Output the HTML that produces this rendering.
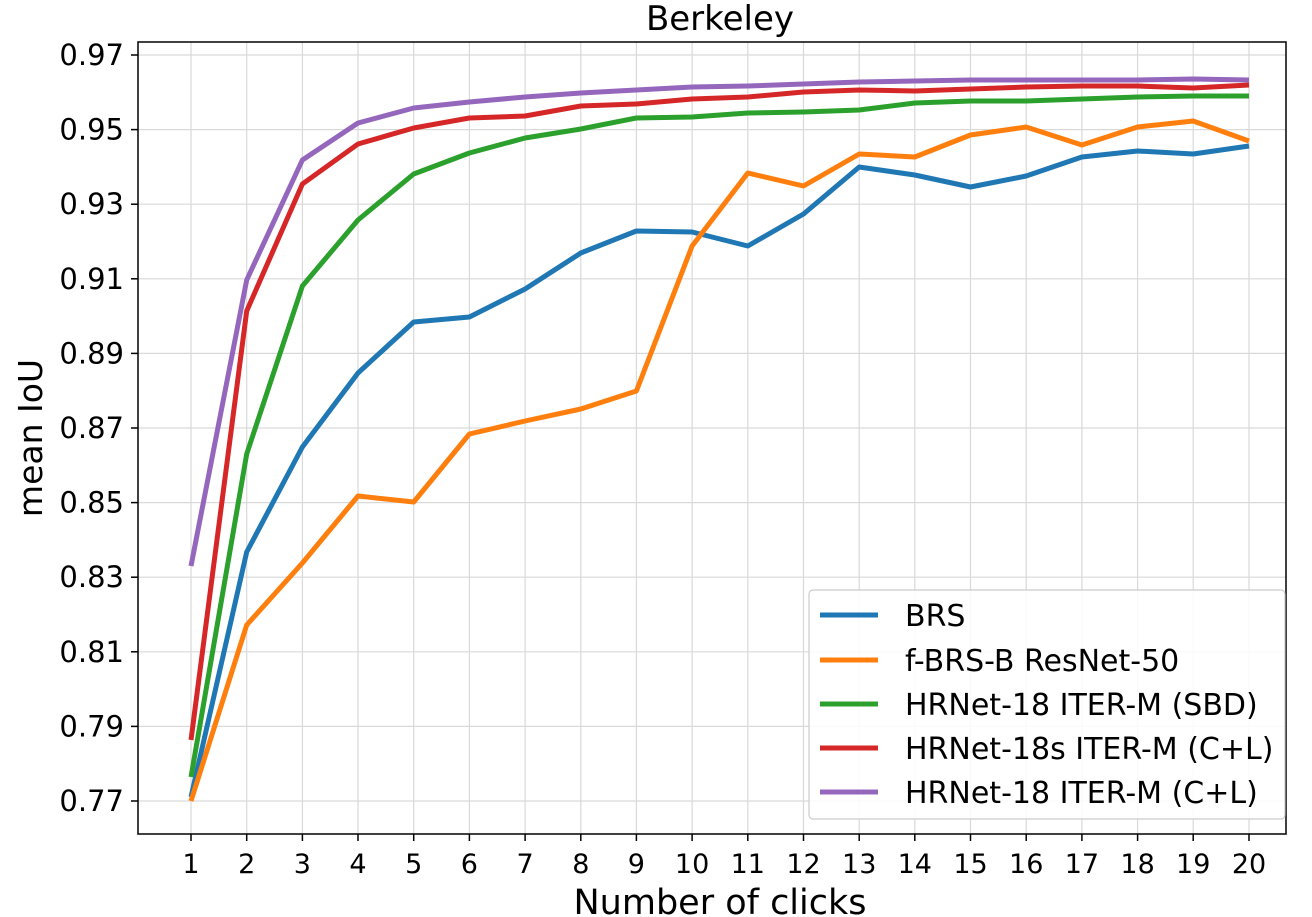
<!DOCTYPE html>
<html><head><meta charset="utf-8"><style>body{margin:0;background:#fff}svg{display:block}text{font-family:"DejaVu Sans","Liberation Sans",sans-serif;fill:#000}</style></head><body>
<svg width="1312" height="917" viewBox="0 0 1312 917" xmlns="http://www.w3.org/2000/svg">
<g stroke="#d9d9d9" stroke-width="1.2">
<line x1="191" y1="42" x2="191" y2="834"/><line x1="246.7" y1="42" x2="246.7" y2="834"/><line x1="302.4" y1="42" x2="302.4" y2="834"/><line x1="358" y1="42" x2="358" y2="834"/><line x1="413.7" y1="42" x2="413.7" y2="834"/><line x1="469.4" y1="42" x2="469.4" y2="834"/><line x1="525.1" y1="42" x2="525.1" y2="834"/><line x1="580.8" y1="42" x2="580.8" y2="834"/><line x1="636.4" y1="42" x2="636.4" y2="834"/><line x1="692.1" y1="42" x2="692.1" y2="834"/><line x1="747.8" y1="42" x2="747.8" y2="834"/><line x1="803.5" y1="42" x2="803.5" y2="834"/><line x1="859.2" y1="42" x2="859.2" y2="834"/><line x1="914.8" y1="42" x2="914.8" y2="834"/><line x1="970.5" y1="42" x2="970.5" y2="834"/><line x1="1026.2" y1="42" x2="1026.2" y2="834"/><line x1="1081.9" y1="42" x2="1081.9" y2="834"/><line x1="1137.6" y1="42" x2="1137.6" y2="834"/><line x1="1193.2" y1="42" x2="1193.2" y2="834"/><line x1="1249" y1="42" x2="1249" y2="834"/>
<line x1="138" y1="55" x2="1286" y2="55"/><line x1="138" y1="129.6" x2="1286" y2="129.6"/><line x1="138" y1="204.2" x2="1286" y2="204.2"/><line x1="138" y1="278.8" x2="1286" y2="278.8"/><line x1="138" y1="353.4" x2="1286" y2="353.4"/><line x1="138" y1="428" x2="1286" y2="428"/><line x1="138" y1="502.6" x2="1286" y2="502.6"/><line x1="138" y1="577.2" x2="1286" y2="577.2"/><line x1="138" y1="651.8" x2="1286" y2="651.8"/><line x1="138" y1="726.4" x2="1286" y2="726.4"/><line x1="138" y1="801" x2="1286" y2="801"/>
</g>
<g fill="none" stroke-width="5" stroke-linejoin="round">
<polyline stroke="#1f77b4" points="191,797 246.7,552 302.4,447 358,373 413.7,322 469.4,317 525.1,289 580.8,253 636.4,231 692.1,232 747.8,246 803.5,214 859.2,167 914.8,175 970.5,187 1026.2,176 1081.9,157 1137.6,151 1193.2,154 1249,146"/>
<polyline stroke="#ff7f0e" points="191,801 246.7,625 302.4,563 358,496 413.7,502 469.4,434 525.1,421 580.8,409 636.4,391 692.1,246 747.8,173 803.5,186 859.2,154 914.8,157 970.5,135 1026.2,127 1081.9,145 1137.6,127 1193.2,121 1249,141"/>
<polyline stroke="#2ca02c" points="191,777 246.7,454 302.4,286 358,220 413.7,174 469.4,153 525.1,138 580.8,129 636.4,118 692.1,117 747.8,113 803.5,112 859.2,110 914.8,103 970.5,101 1026.2,101 1081.9,99 1137.6,97 1193.2,96 1249,96"/>
<polyline stroke="#d62728" points="191,740 246.7,311 302.4,184 358,144 413.7,128 469.4,118 525.1,116 580.8,106 636.4,104 692.1,99 747.8,97 803.5,92 859.2,90 914.8,91 970.5,89 1026.2,87 1081.9,86 1137.6,86 1193.2,88 1249,85"/>
<polyline stroke="#9467bd" points="191,566 246.7,280 302.4,160 358,123 413.7,108 469.4,102 525.1,97 580.8,93 636.4,90 692.1,87 747.8,86 803.5,84 859.2,82 914.8,81 970.5,80 1026.2,80 1081.9,80 1137.6,80 1193.2,79 1249,80"/>
</g>
<rect x="138" y="42" width="1148" height="792" fill="none" stroke="#000" stroke-width="1.5"/>
<g stroke="#000" stroke-width="1.5">
<line x1="191" y1="834" x2="191" y2="841"/><line x1="246.7" y1="834" x2="246.7" y2="841"/><line x1="302.4" y1="834" x2="302.4" y2="841"/><line x1="358" y1="834" x2="358" y2="841"/><line x1="413.7" y1="834" x2="413.7" y2="841"/><line x1="469.4" y1="834" x2="469.4" y2="841"/><line x1="525.1" y1="834" x2="525.1" y2="841"/><line x1="580.8" y1="834" x2="580.8" y2="841"/><line x1="636.4" y1="834" x2="636.4" y2="841"/><line x1="692.1" y1="834" x2="692.1" y2="841"/><line x1="747.8" y1="834" x2="747.8" y2="841"/><line x1="803.5" y1="834" x2="803.5" y2="841"/><line x1="859.2" y1="834" x2="859.2" y2="841"/><line x1="914.8" y1="834" x2="914.8" y2="841"/><line x1="970.5" y1="834" x2="970.5" y2="841"/><line x1="1026.2" y1="834" x2="1026.2" y2="841"/><line x1="1081.9" y1="834" x2="1081.9" y2="841"/><line x1="1137.6" y1="834" x2="1137.6" y2="841"/><line x1="1193.2" y1="834" x2="1193.2" y2="841"/><line x1="1249" y1="834" x2="1249" y2="841"/>
<line x1="131" y1="55" x2="138" y2="55"/><line x1="131" y1="129.6" x2="138" y2="129.6"/><line x1="131" y1="204.2" x2="138" y2="204.2"/><line x1="131" y1="278.8" x2="138" y2="278.8"/><line x1="131" y1="353.4" x2="138" y2="353.4"/><line x1="131" y1="428" x2="138" y2="428"/><line x1="131" y1="502.6" x2="138" y2="502.6"/><line x1="131" y1="577.2" x2="138" y2="577.2"/><line x1="131" y1="651.8" x2="138" y2="651.8"/><line x1="131" y1="726.4" x2="138" y2="726.4"/><line x1="131" y1="801" x2="138" y2="801"/>
</g>
<g font-size="27" text-anchor="middle">
<text x="191" y="873">1</text><text x="246.7" y="873">2</text><text x="302.4" y="873">3</text><text x="358" y="873">4</text><text x="413.7" y="873">5</text><text x="469.4" y="873">6</text><text x="525.1" y="873">7</text><text x="580.8" y="873">8</text><text x="636.4" y="873">9</text><text x="692.1" y="873">10</text><text x="747.8" y="873">11</text><text x="803.5" y="873">12</text><text x="859.2" y="873">13</text><text x="914.8" y="873">14</text><text x="970.5" y="873">15</text><text x="1026.2" y="873">16</text><text x="1081.9" y="873">17</text><text x="1137.6" y="873">18</text><text x="1193.2" y="873">19</text><text x="1249" y="873">20</text>
</g>
<g font-size="29" text-anchor="end">
<text x="124" y="65">0.97</text><text x="124" y="139.6">0.95</text><text x="124" y="214.2">0.93</text><text x="124" y="288.8">0.91</text><text x="124" y="363.4">0.89</text><text x="124" y="438">0.87</text><text x="124" y="512.6">0.85</text><text x="124" y="587.2">0.83</text><text x="124" y="661.8">0.81</text><text x="124" y="736.4">0.79</text><text x="124" y="811">0.77</text>
</g>
<text x="720" y="30" font-size="34" text-anchor="middle">Berkeley</text>
<text x="720" y="914" font-size="35" text-anchor="middle">Number of clicks</text>
<text transform="translate(42,438) rotate(-90)" font-size="33" text-anchor="middle">mean IoU</text>
<rect x="809" y="590" width="476" height="229" rx="4" fill="#fff" fill-opacity="0.85" stroke="#ccc" stroke-width="1.2"/>
<g stroke-width="5">
<line x1="820" y1="615" x2="878" y2="615" stroke="#1f77b4"/>
<line x1="820" y1="660" x2="878" y2="660" stroke="#ff7f0e"/>
<line x1="820" y1="704" x2="878" y2="704" stroke="#2ca02c"/>
<line x1="820" y1="748" x2="878" y2="748" stroke="#d62728"/>
<line x1="820" y1="792" x2="878" y2="792" stroke="#9467bd"/>
</g>
<g font-size="30" textLength="0">
<text x="905" y="626">BRS</text>
<text x="905" y="671">f-BRS-B ResNet-50</text>
<text x="905" y="715">HRNet-18 ITER-M (SBD)</text>
<text x="905" y="759">HRNet-18s ITER-M (C+L)</text>
<text x="905" y="803">HRNet-18 ITER-M (C+L)</text>
</g>
</svg>
</body></html>
